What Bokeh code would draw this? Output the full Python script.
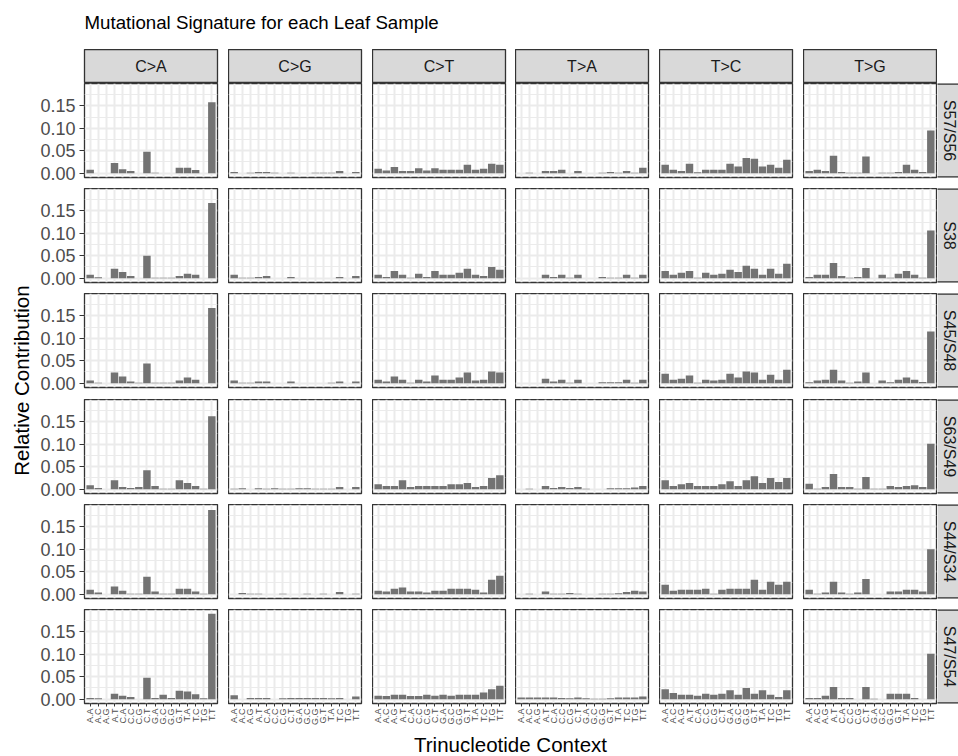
import math
from bokeh.plotting import figure
from bokeh.models import FactorRange, Range1d, FixedTicker, NumeralTickFormatter, GridBox
from bokeh.core.properties import value
from bokeh.embed import file_html
from bokeh.resources import INLINE

# ---------------- data ----------------
title_text = "Mutational Signature for each Leaf Sample"
x_title = "Trinucleotide Context"
y_title = "Relative Contribution"
substitutions = ["C>A", "C>G", "C>T", "T>A", "T>C", "T>G"]
samples = ["S57/S56", "S38", "S45/S48", "S63/S49", "S44/S34", "S47/S54"]
contexts = ["A.A", "A.C", "A.G", "A.T", "C.A", "C.C", "C.G", "C.T",
            "G.A", "G.C", "G.G", "G.T", "T.A", "T.C", "T.G", "T.T"]
y_ticks = [0.0, 0.05, 0.10, 0.15]
y_minor_ticks = [0.025, 0.075, 0.125, 0.175]

s57_s56 = {
    "C>A": [0.008, 0, 0, 0.023, 0.009, 0.005, 0, 0.048, 0.001, 0, 0, 0.012, 0.012, 0.007, 0, 0.158],
    "C>G": [0.003, 0, 0.001, 0.003, 0.003, 0.001, 0, 0.001, 0, 0, 0.001, 0.001, 0.001, 0.005, 0, 0.003],
    "C>T": [0.010, 0.006, 0.014, 0.005, 0.005, 0.011, 0.006, 0.011, 0.008, 0.008, 0.008, 0.019, 0.008, 0.010, 0.021, 0.019],
    "T>A": [0, 0.001, 0, 0.005, 0.005, 0.008, 0, 0.005, 0, 0, 0.001, 0.003, 0.001, 0.005, 0.001, 0.012],
    "T>C": [0.019, 0.008, 0.005, 0.021, 0.002, 0.008, 0.008, 0.008, 0.021, 0.015, 0.034, 0.032, 0.015, 0.019, 0.012, 0.030],
    "T>G": [0.005, 0.008, 0.005, 0.039, 0.003, 0.001, 0.001, 0.037, 0, 0.001, 0.001, 0.003, 0.019, 0.008, 0.003, 0.095],
}
s38 = {
    "C>A": [0.008, 0.002, 0, 0.021, 0.014, 0.005, 0, 0.050, 0.001, 0.001, 0.001, 0.005, 0.010, 0.008, 0, 0.167],
    "C>G": [0.008, 0.001, 0.001, 0.003, 0.005, 0, 0, 0.003, 0, 0, 0, 0, 0, 0.003, 0, 0.005],
    "C>T": [0.008, 0.003, 0.016, 0.008, 0.001, 0.010, 0.003, 0.016, 0.008, 0.008, 0.012, 0.021, 0.008, 0.005, 0.025, 0.019],
    "T>A": [0, 0, 0, 0.008, 0.003, 0.008, 0.001, 0.008, 0, 0, 0.003, 0.001, 0.001, 0.008, 0.001, 0.008],
    "T>C": [0.016, 0.008, 0.012, 0.016, 0.001, 0.012, 0.008, 0.010, 0.019, 0.014, 0.028, 0.021, 0.008, 0.021, 0.010, 0.032],
    "T>G": [0.003, 0.008, 0.008, 0.034, 0.005, 0.001, 0.003, 0.023, 0, 0.008, 0.001, 0.010, 0.016, 0.008, 0.001, 0.106],
}
s45_s48 = {
    "C>A": [0.006, 0.001, 0, 0.024, 0.015, 0.004, 0.001, 0.044, 0.001, 0.001, 0.001, 0.006, 0.013, 0.008, 0, 0.167],
    "C>G": [0.006, 0.001, 0.001, 0.004, 0.004, 0, 0, 0.004, 0, 0, 0, 0, 0.001, 0.004, 0, 0.004],
    "C>T": [0.008, 0.004, 0.015, 0.008, 0.001, 0.008, 0.004, 0.017, 0.008, 0.008, 0.013, 0.024, 0.006, 0.008, 0.026, 0.024],
    "T>A": [0, 0, 0, 0.010, 0.004, 0.008, 0.001, 0.008, 0, 0, 0.002, 0.002, 0.002, 0.008, 0.001, 0.008],
    "T>C": [0.021, 0.008, 0.010, 0.017, 0.001, 0.008, 0.006, 0.008, 0.021, 0.013, 0.026, 0.024, 0.008, 0.019, 0.008, 0.030],
    "T>G": [0.002, 0.006, 0.008, 0.030, 0.006, 0.001, 0.004, 0.024, 0, 0.006, 0.002, 0.008, 0.013, 0.008, 0.003, 0.115],
}
s63_s49 = {
    "C>A": [0.009, 0.003, 0, 0.020, 0.005, 0.003, 0.005, 0.042, 0.007, 0.001, 0.001, 0.020, 0.014, 0.007, 0.001, 0.162],
    "C>G": [0.001, 0.002, 0, 0.002, 0.001, 0.002, 0.001, 0.001, 0.002, 0.002, 0.001, 0.001, 0.001, 0.005, 0, 0.005],
    "C>T": [0.011, 0.007, 0.007, 0.020, 0.005, 0.007, 0.007, 0.007, 0.007, 0.011, 0.011, 0.014, 0.005, 0.007, 0.025, 0.031],
    "T>A": [0, 0.001, 0, 0.007, 0.003, 0.005, 0.003, 0.005, 0.001, 0, 0, 0.002, 0.002, 0.002, 0.004, 0.007],
    "T>C": [0.020, 0.007, 0.011, 0.014, 0.007, 0.007, 0.007, 0.011, 0.018, 0.007, 0.020, 0.029, 0.014, 0.025, 0.016, 0.025],
    "T>G": [0.012, 0.001, 0.005, 0.034, 0.005, 0.005, 0.001, 0.027, 0.001, 0.001, 0.007, 0.005, 0.007, 0.009, 0.005, 0.101],
}
s44_s34 = {
    "C>A": [0.010, 0.004, 0, 0.017, 0.008, 0.001, 0.001, 0.039, 0.006, 0.001, 0.001, 0.012, 0.012, 0.006, 0.001, 0.187],
    "C>G": [0, 0.003, 0.001, 0.001, 0, 0, 0.001, 0, 0, 0.001, 0, 0.001, 0, 0.005, 0, 0.001],
    "C>T": [0.008, 0.006, 0.012, 0.015, 0.006, 0.006, 0.004, 0.008, 0.008, 0.012, 0.012, 0.012, 0.010, 0.004, 0.032, 0.041],
    "T>A": [0, 0.001, 0, 0.006, 0.001, 0.001, 0.003, 0.001, 0, 0, 0.001, 0.001, 0.002, 0.005, 0.008, 0.006],
    "T>C": [0.021, 0.008, 0.010, 0.010, 0.010, 0.012, 0.001, 0.010, 0.012, 0.012, 0.012, 0.032, 0.010, 0.028, 0.021, 0.028],
    "T>G": [0.010, 0.001, 0.004, 0.028, 0.004, 0.001, 0.004, 0.034, 0, 0, 0.006, 0.006, 0.010, 0.010, 0.006, 0.100],
}
s47_s54 = {
    "C>A": [0.003, 0.002, 0, 0.012, 0.008, 0.005, 0, 0.048, 0.003, 0.010, 0.003, 0.019, 0.017, 0.011, 0.002, 0.190],
    "C>G": [0.009, 0, 0.003, 0.003, 0.003, 0, 0.002, 0.003, 0.003, 0.003, 0.003, 0.003, 0.002, 0.003, 0, 0.006],
    "C>T": [0.008, 0.007, 0.010, 0.010, 0.007, 0.007, 0.010, 0.008, 0.010, 0.008, 0.010, 0.010, 0.010, 0.015, 0.022, 0.030],
    "T>A": [0.004, 0.004, 0.004, 0.004, 0.004, 0.003, 0.002, 0.004, 0.002, 0.001, 0.001, 0.002, 0.004, 0.004, 0.004, 0.006],
    "T>C": [0.022, 0.014, 0.010, 0.010, 0.008, 0.012, 0.010, 0.012, 0.020, 0.010, 0.025, 0.012, 0.020, 0.010, 0.005, 0.020],
    "T>G": [0.003, 0.003, 0.008, 0.027, 0.003, 0.003, 0, 0.027, 0.001, 0, 0.012, 0.012, 0.012, 0.003, 0, 0.101],
}
profiles = [s57_s56, s38, s45_s48, s63_s49, s44_s34, s47_s54]

# ---------------- style / layout ----------------
FONT = "Liberation Sans"
BAR = "#737373"
BORDER = "#333333"
STRIP_FILL = "#d9d9d9"
GRID = "#ebebeb"
TICK_TEXT = "#4d4d4d"

PANEL_W = 133
PANEL_H = 94
LEFT_AXIS = 48            # room for y tick labels in first panel column
YTITLE_W = 36
gap_x = [11, 11, 10, 11, 11, 1]    # gap to the right of each panel column
gap_y = [11, 11, 12, 11, 11, 27]   # gap below each panel row (last: x labels)
STRIP_H = 34
RSTRIP_W = 21
TITLE_H = 49
XTITLE_H = 26

all_vals = [v for prof in profiles for s in substitutions for v in prof[s]]
ymax = max(all_vals)
ypad = 0.05 * ymax
y_range = Range1d(-ypad, ymax + ypad)


def blank(width, height, xr, yr, **kw):
    f = figure(width=width, height=height, x_range=xr, y_range=yr,
               x_axis_location=None, y_axis_location=None,
               toolbar_location=None, output_backend="svg",
               min_border_left=kw.get("l", 0), min_border_right=kw.get("r", 0),
               min_border_top=0, min_border_bottom=kw.get("b", 0))
    f.grid.visible = False
    f.outline_line_color = None
    f.background_fill_color = None
    f.border_fill_color = None
    return f


def panel(i, j):
    left = LEFT_AXIS if j == 0 else 0
    right = gap_x[j]
    bottom = gap_y[i]
    p = figure(width=left + PANEL_W + right, height=PANEL_H + bottom,
               x_range=FactorRange(factors=contexts, range_padding=0.2,
                                   range_padding_units="absolute"),
               y_range=y_range,
               x_axis_location="below" if i == 5 else None,
               y_axis_location="left" if j == 0 else None,
               toolbar_location=None, output_backend="svg",
               min_border_left=left, min_border_right=right,
               min_border_top=0, min_border_bottom=bottom)
    p.outline_line_color = BORDER
    p.outline_line_width = 1.3
    p.border_fill_color = None
    p.xgrid.grid_line_color = GRID
    p.xgrid.grid_line_width = 2
    p.ygrid.ticker = FixedTicker(ticks=y_ticks, minor_ticks=y_minor_ticks)
    p.ygrid.grid_line_color = GRID
    p.ygrid.grid_line_width = 2
    p.ygrid.minor_grid_line_color = GRID
    p.ygrid.minor_grid_line_width = 1
    p.vbar(x=contexts, top=profiles[i][substitutions[j]], width=0.92,
           fill_color=BAR, line_color=None)
    if j == 0:
        ax = p.yaxis[0]
        ax.ticker = FixedTicker(ticks=y_ticks, minor_ticks=y_minor_ticks)
        ax.formatter = NumeralTickFormatter(format="0.00")
        ax.axis_line_color = None
        ax.major_tick_in = 0
        ax.major_tick_out = 5
        ax.major_tick_line_color = BORDER
        ax.major_tick_line_width = 1.2
        ax.minor_tick_line_color = None
        ax.major_label_standoff = 4
        ax.major_label_text_font = FONT
        ax.major_label_text_font_size = "18px"
        ax.major_label_text_color = TICK_TEXT
    if i == 5:
        ax = p.xaxis[0]
        ax.axis_line_color = None
        ax.major_tick_in = 0
        ax.major_tick_out = 3
        ax.major_tick_line_color = BORDER
        ax.minor_tick_line_color = None
        ax.major_label_orientation = math.pi / 2
        ax.major_label_standoff = 2
        ax.major_label_text_font = FONT
        ax.major_label_text_font_size = "9px"
        ax.major_label_text_color = TICK_TEXT
    return p


def top_strip(j):
    left = LEFT_AXIS if j == 0 else 0
    right = gap_x[j]
    s = blank(left + PANEL_W + right, STRIP_H, Range1d(0, 1), Range1d(0, 1), l=left, r=right)
    s.background_fill_color = STRIP_FILL
    s.outline_line_color = BORDER
    s.outline_line_width = 1.3
    s.text(x=[0.5], y=[0.5], text=[substitutions[j]], text_align="center",
           text_baseline="middle", text_font=value(FONT), text_font_size="16px",
           text_color="#1a1a1a")
    return s


def right_strip(i):
    bottom = gap_y[i]
    s = blank(RSTRIP_W, PANEL_H + bottom, Range1d(0, 1), Range1d(0, 1), b=bottom)
    s.background_fill_color = STRIP_FILL
    s.quad(left=[-1], right=[3], bottom=[0], top=[1], fill_color=None,
           line_color=BORDER, line_width=2.6)
    s.text(x=[0.55], y=[0.5], text=[samples[i]], angle=-math.pi / 2,
           text_align="center", text_baseline="middle", text_font=value(FONT),
           text_font_size="16px", text_color="#1a1a1a")
    return s


TOTAL_W = YTITLE_W + sum(LEFT_AXIS * (j == 0) + PANEL_W + gap_x[j] for j in range(6)) + RSTRIP_W
panels_h = sum(PANEL_H + g for g in gap_y)
panel_left0 = YTITLE_W + LEFT_AXIS
panel_right_end = TOTAL_W - RSTRIP_W - 1

# title
tf = blank(TOTAL_W, TITLE_H, Range1d(0, TOTAL_W), Range1d(TITLE_H, 0))
tf.text(x=[panel_left0], y=[22], text=[title_text], text_align="left",
        text_baseline="middle", text_font=value(FONT), text_font_size="18.7px",
        text_color="#000000")

# y title
yf = blank(YTITLE_W, panels_h, Range1d(0, YTITLE_W), Range1d(panels_h, 0))
yf.text(x=[21], y=[(sum(PANEL_H + g for g in gap_y[:5]) + PANEL_H) / 2], text=[y_title],
        angle=math.pi / 2, text_align="center", text_baseline="middle",
        text_font=value(FONT), text_font_size="20.5px", text_color="#000000")

# x title
xf = blank(TOTAL_W, XTITLE_H, Range1d(0, TOTAL_W), Range1d(XTITLE_H, 0))
xf.text(x=[(panel_left0 + panel_right_end) / 2], y=[14], text=[x_title],
        text_align="center", text_baseline="middle", text_font=value(FONT),
        text_font_size="20.5px", text_color="#000000")

children = [(tf, 0, 0, 1, 8), (yf, 2, 0, 6, 1), (xf, 8, 0, 1, 8)]
for j in range(6):
    children.append((top_strip(j), 1, j + 1))
for i in range(6):
    for j in range(6):
        children.append((panel(i, j), i + 2, j + 1))
    children.append((right_strip(i), i + 2, 7))

layout = GridBox(children=children, spacing=0)

open("out.html", "w").write(file_html(layout, INLINE))
